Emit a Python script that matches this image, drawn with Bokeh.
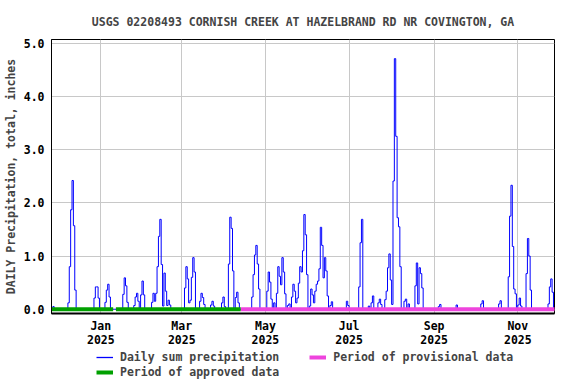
from datetime import datetime
import numpy as np
import pandas as pd
from bokeh.plotting import figure
from bokeh.layouts import column
from bokeh.models import (FixedTicker, DatetimeTickFormatter, NumeralTickFormatter,
                          Legend, LegendItem, Range1d, ColumnDataSource)
from bokeh.embed import file_html
from bokeh.resources import INLINE

title_text = "USGS 02208493 CORNISH CREEK AT HAZELBRAND RD NR COVINGTON, GA"
y_label = "DAILY Precipitation, total, inches"
period_start = "2024-11-26"
period_end = "2025-11-27"

rain_dates = [
    "2024-11-27", "2024-12-08", "2024-12-09", "2024-12-10", "2024-12-11", "2024-12-12", "2024-12-13",
    "2024-12-27", "2024-12-28", "2024-12-29", "2024-12-30",
    "2025-01-04", "2025-01-05", "2025-01-06", "2025-01-07",
    "2025-01-17", "2025-01-18", "2025-01-19", "2025-01-20",
    "2025-01-25", "2025-01-26", "2025-01-27", "2025-01-28",
    "2025-01-30", "2025-01-31", "2025-02-01",
    "2025-02-07", "2025-02-08", "2025-02-09", "2025-02-10", "2025-02-11", "2025-02-12", "2025-02-13",
    "2025-02-14", "2025-02-15", "2025-02-16", "2025-02-17", "2025-02-18", "2025-02-19", "2025-02-20",
    "2025-03-03", "2025-03-04", "2025-03-05", "2025-03-06", "2025-03-07", "2025-03-08", "2025-03-09",
    "2025-03-10", "2025-03-14", "2025-03-15", "2025-03-16", "2025-03-17",
    "2025-03-22", "2025-03-23", "2025-03-24", "2025-03-30", "2025-03-31", "2025-04-01",
    "2025-04-04", "2025-04-05", "2025-04-06", "2025-04-07", "2025-04-09", "2025-04-10", "2025-04-11",
    "2025-04-21", "2025-04-22", "2025-04-23", "2025-04-24", "2025-04-25", "2025-04-26",
    "2025-05-02", "2025-05-03", "2025-05-04", "2025-05-05", "2025-05-07",
    "2025-05-09", "2025-05-10", "2025-05-11", "2025-05-12", "2025-05-13", "2025-05-14", "2025-05-15",
    "2025-05-17", "2025-05-18", "2025-05-20", "2025-05-21", "2025-05-22", "2025-05-23", "2025-05-24",
    "2025-05-25", "2025-05-26", "2025-05-27", "2025-05-28", "2025-05-29", "2025-05-30", "2025-05-31",
    "2025-06-02", "2025-06-03", "2025-06-04", "2025-06-05", "2025-06-06", "2025-06-07", "2025-06-08",
    "2025-06-09", "2025-06-10", "2025-06-11", "2025-06-12", "2025-06-13", "2025-06-14", "2025-06-15",
    "2025-06-17", "2025-06-18", "2025-06-29", "2025-06-30",
    "2025-07-08", "2025-07-09", "2025-07-10", "2025-07-15", "2025-07-17", "2025-07-18",
    "2025-07-22", "2025-07-23", "2025-07-24",
    "2025-07-27", "2025-07-28", "2025-07-29", "2025-07-30", "2025-07-31", "2025-08-01",
    "2025-08-02", "2025-08-03", "2025-08-04", "2025-08-05", "2025-08-06", "2025-08-07",
    "2025-08-10", "2025-08-11", "2025-08-13",
    "2025-08-18", "2025-08-19", "2025-08-20", "2025-08-21", "2025-08-22", "2025-08-23",
    "2025-09-04", "2025-09-05", "2025-09-17", "2025-10-05", "2025-10-06", "2025-10-18", "2025-10-19",
    "2025-10-25", "2025-10-26", "2025-10-27", "2025-10-28", "2025-10-29", "2025-10-30",
    "2025-11-01", "2025-11-02", "2025-11-03",
    "2025-11-07", "2025-11-08", "2025-11-09", "2025-11-10",
    "2025-11-23", "2025-11-24", "2025-11-25", "2025-11-26",
]
rain_values = [
    0.05, 0.12, 0.80, 1.87, 2.42, 1.57, 0.36,
    0.21, 0.42, 0.42, 0.21,
    0.13, 0.36, 0.47, 0.23,
    0.28, 0.59, 0.44, 0.13,
    0.07, 0.23, 0.30, 0.15,
    0.27, 0.53, 0.27,
    0.13, 0.30, 0.15, 0.30, 0.80, 1.37, 1.69,
    0.84, 0.06, 0.68, 0.34, 0.07, 0.17, 0.08,
    0.40, 0.80, 0.57, 0.12, 0.17, 0.60, 0.97,
    0.70, 0.15, 0.30, 0.22, 0.09,
    0.08, 0.15, 0.06, 0.12, 0.23, 0.05,
    0.85, 1.73, 1.52, 0.72, 0.22, 0.32, 0.12,
    0.23, 0.65, 1.02, 1.20, 0.85, 0.38,
    0.34, 0.70, 0.51, 0.19, 0.12,
    0.30, 0.80, 0.62, 0.46, 0.97, 0.70, 0.29,
    0.07, 0.10, 0.23, 0.47, 0.34, 0.12, 0.21,
    0.49, 0.80, 0.70, 1.10, 1.78, 1.40, 0.65,
    0.06, 0.38, 0.27, 0.12, 0.34, 0.47, 0.53,
    0.76, 1.54, 1.20, 0.59, 0.97, 0.72, 0.25,
    0.07, 0.14, 0.15, 0.07,
    0.42, 1.25, 1.69, 0.06, 0.12, 0.25,
    0.12, 0.19, 0.09,
    0.18, 0.34, 0.78, 1.04, 0.55, 0.09,
    2.41, 4.71, 3.25, 1.72, 1.55, 0.80,
    0.15, 0.19, 0.10,
    0.44, 0.87, 0.10, 0.78, 0.67, 0.40,
    0.05, 0.09, 0.08, 0.10, 0.16, 0.10, 0.16,
    0.61, 1.75, 2.33, 1.18, 0.38, 0.29,
    0.08, 0.21, 0.06,
    0.67, 1.33, 1.00, 0.36,
    0.10, 0.42, 0.57, 0.32,
]

approved_starts = ["2024-11-25", "2025-01-12"]
approved_ends = ["2025-01-10", "2025-04-13"]
provisional_starts = ["2025-04-13"]
provisional_ends = ["2025-11-29"]

month_ticks = ["2025-01-01", "2025-03-01", "2025-05-01", "2025-07-01", "2025-09-01", "2025-11-01"]
y_ticks = [0, 1, 2, 3, 4, 5]

legend_labels = ["Daily sum precipitation", "Period of provisional data", "Period of approved data"]

FONT = "DejaVu Sans Mono"
FS = "11.5px"
BLUE, MAGENTA, GREEN = "#0000ff", "#ee44dd", "#00a000"

# daily table (dry days are zero)
days = pd.date_range(period_start, period_end, freq="D")
series = pd.Series(0.0, index=days)
series.loc[pd.to_datetime(rain_dates)] = rain_values
src = ColumnDataSource(dict(x=days + pd.Timedelta(hours=12), y=series.values))

p = figure(width=576, height=350, output_backend="svg", toolbar_location=None,
           x_axis_type="datetime",
           x_range=Range1d(datetime(2024, 11, 26, 1), datetime(2025, 11, 27, 18)),
           y_range=Range1d(-0.08, 5.07),
           min_border_left=51, min_border_right=22, min_border_top=39, min_border_bottom=37)

p.title.text = title_text
p.title.text_font = FONT
p.title.text_font_size = FS
p.title.text_font_style = "bold"
p.title.align = "center"
p.title.standoff = 22

p.outline_line_color = "black"
p.outline_line_width = 1
p.background_fill_color = "white"

tick_ms = [pd.Timestamp(t).value / 1e6 for t in month_ticks]
p.xgrid.ticker = FixedTicker(ticks=tick_ms)
p.xaxis.ticker = FixedTicker(ticks=tick_ms)
fmt = "%b\n%Y"
p.xaxis.formatter = DatetimeTickFormatter(days=fmt, months=fmt, years=fmt, hours=fmt)
p.yaxis.ticker = FixedTicker(ticks=y_ticks)
p.yaxis.formatter = NumeralTickFormatter(format="0.0")
for g in (p.xgrid, p.ygrid):
    g.grid_line_color = "#c8c8c8"
    g.grid_line_width = 1

for ax in (p.xaxis, p.yaxis):
    ax.major_label_text_font = FONT
    ax.major_label_text_font_size = FS
    ax.major_label_text_font_style = "bold"
    ax.major_label_text_color = "black"
    ax.major_tick_line_color = None
    ax.minor_tick_line_color = None
    ax.major_tick_out = 0
    ax.major_tick_in = 0
    ax.minor_tick_out = 0
    ax.minor_tick_in = 0
    ax.axis_line_color = "black"
p.xaxis.axis_line_width = 2
p.xaxis.major_label_standoff = 5
p.xaxis.major_label_text_line_height = 1.05
p.yaxis.major_label_standoff = 7
p.yaxis.axis_label = y_label
p.yaxis.axis_label_text_font = FONT
p.yaxis.axis_label_text_font_size = FS
p.yaxis.axis_label_text_font_style = "bold"
p.yaxis.axis_label_standoff = 3

p.step("x", "y", source=src, mode="center", line_color=BLUE, line_width=1)
p.segment(x0=pd.to_datetime(provisional_starts), x1=pd.to_datetime(provisional_ends),
          y0=0, y1=0, line_color=MAGENTA, line_width=4)
p.segment(x0=pd.to_datetime(approved_starts), x1=pd.to_datetime(approved_ends),
          y0=0, y1=0, line_color=GREEN, line_width=4)

# legend strip below the chart (sample renderers lie outside its visible range)
q = figure(width=576, height=34, output_backend="svg", toolbar_location=None,
           x_axis_location=None, y_axis_location=None, title=None,
           x_range=Range1d(0, 1), y_range=Range1d(0, 1),
           min_border=0, min_border_left=0, min_border_right=0,
           min_border_top=0, min_border_bottom=0)
q.grid.visible = False
q.outline_line_color = None
k_rain = q.line(x=[-5, -4], y=[-5, -5], line_color=BLUE, line_width=1.3)
k_prov = q.line(x=[-5, -4], y=[-5, -5], line_color=MAGENTA, line_width=4)
k_appr = q.line(x=[-5, -4], y=[-5, -5], line_color=GREEN, line_width=4)


def make_legend(items, loc, spacing):
    lg = Legend(items=items, location=loc, orientation="horizontal")
    lg.label_text_font = FONT
    lg.label_text_font_size = FS
    lg.label_text_font_style = "bold"
    lg.glyph_width = 17
    lg.glyph_height = 14
    lg.label_height = 14
    lg.label_standoff = 7
    lg.padding = 0
    lg.margin = 0
    lg.spacing = spacing
    lg.border_line_color = None
    lg.background_fill_alpha = 0
    return lg

q.add_layout(make_legend([LegendItem(label=legend_labels[0], renderers=[k_rain]),
                          LegendItem(label=legend_labels[1], renderers=[k_prov])], (45, 20), 30))
q.add_layout(make_legend([LegendItem(label=legend_labels[2], renderers=[k_appr])], (45, 5), 0))

open("out.html", "w").write(file_html(column(p, q, spacing=0), INLINE))
